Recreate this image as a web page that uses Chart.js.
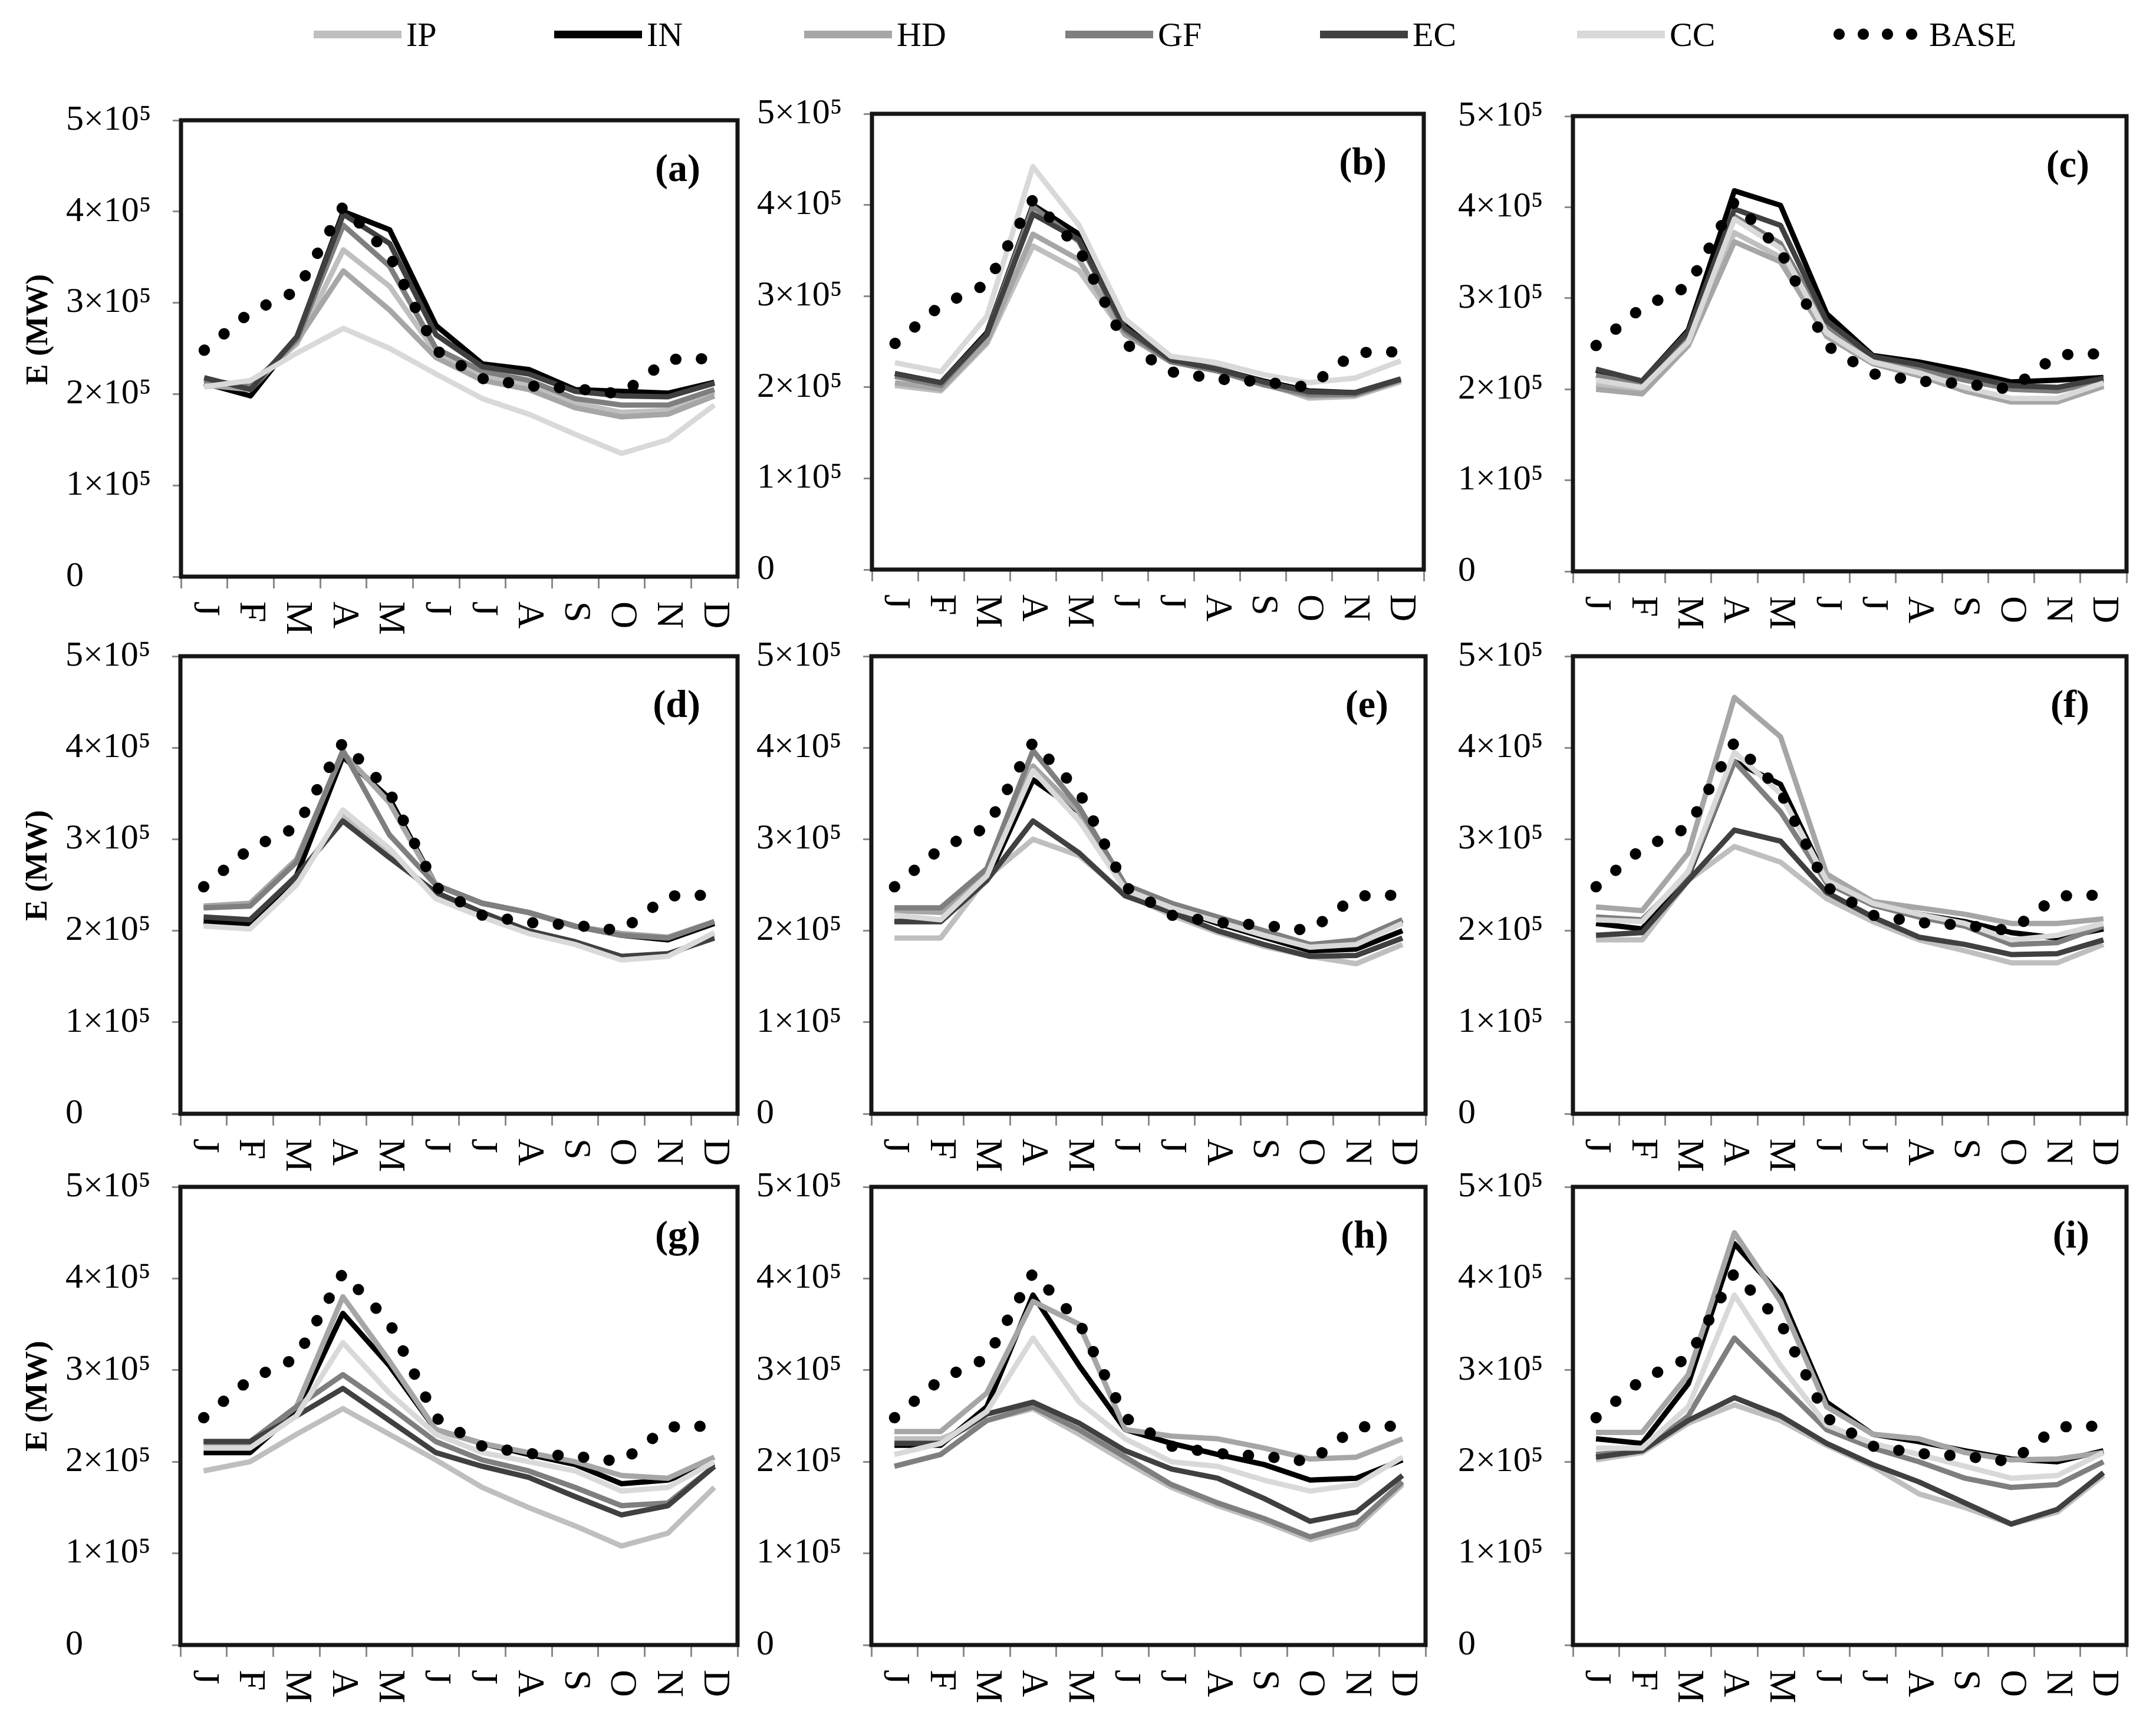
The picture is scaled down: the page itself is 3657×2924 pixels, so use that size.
<!DOCTYPE html>
<html lang="en">
<head>
<meta charset="UTF-8" />
<title>Monthly energy E (MW) by scenario</title>
<script src="https://cdn.jsdelivr.net/npm/chart.js"></script>
<style>
  body { margin: 0; background: #fff; width: 3657px; height: 2924px; position: relative; overflow: hidden;
         font-family: "Liberation Serif", "Times New Roman", serif; }
  canvas { position: absolute; }
  .item { position: absolute; top: 28px; height: 60px; display: flex; align-items: center; font-size: 58px; }
  .sw { width: 149px; height: 13px; margin-right: 8px; }
  .dots { width: 144px; height: 22px; margin-right: 19px;
          background: radial-gradient(circle, #000 9px, transparent 10px) -10px 0 / 41px 22px repeat-x; }
</style>
</head>
<body>

<script>
  // --- data (energy in units of 10^5 MW) ---
  const months = ['J', 'F', 'M', 'A', 'M', 'J', 'J', 'A', 'S', 'O', 'N', 'D'];
  const panelTags = ['(a)', '(b)', '(c)', '(d)', '(e)', '(f)', '(g)', '(h)', '(i)'];
  const yTickLabels = ['0', '1×10⁵', '2×10⁵', '3×10⁵', '4×10⁵', '5×10⁵'];
  const seriesNames = ['IP', 'IN', 'HD', 'GF', 'EC', 'CC'];

  const BASE = [2.48, 2.90, 3.13, 4.06, 3.52, 2.48, 2.17, 2.09, 2.06, 2.00, 2.38, 2.39];

  // one row per panel (a) ... (i)
  const IP = [
    [2.08, 2.12, 2.55, 3.58, 3.18, 2.45, 2.20, 2.10, 1.90, 1.80, 1.82, 2.02],
    [2.02, 1.96, 2.48, 3.55, 3.28, 2.58, 2.28, 2.22, 2.05, 1.88, 1.90, 2.06],
    [2.05, 1.98, 2.50, 3.72, 3.45, 2.60, 2.30, 2.18, 2.00, 1.88, 1.88, 2.05],
    [2.08, 2.05, 2.55, 3.28, 2.85, 2.38, 2.17, 1.98, 1.86, 1.70, 1.73, 1.95],
    [1.92, 1.92, 2.58, 3.00, 2.82, 2.40, 2.17, 1.98, 1.83, 1.72, 1.64, 1.85],
    [1.90, 1.90, 2.55, 2.92, 2.75, 2.35, 2.10, 1.90, 1.78, 1.65, 1.65, 1.85],
    [1.90, 2.00, 2.30, 2.58, 2.30, 2.02, 1.72, 1.50, 1.30, 1.08, 1.22, 1.72],
    [2.25, 2.25, 2.45, 2.58, 2.30, 2.00, 1.72, 1.52, 1.35, 1.15, 1.28, 1.75],
    [2.02, 2.10, 2.42, 2.62, 2.45, 2.18, 1.95, 1.65, 1.50, 1.32, 1.45, 1.85]
  ];
  const IN = [
    [2.12, 1.98, 2.62, 4.00, 3.80, 2.75, 2.33, 2.27, 2.05, 2.03, 2.01, 2.13],
    [2.15, 2.05, 2.60, 4.00, 3.68, 2.72, 2.30, 2.20, 2.07, 1.96, 1.94, 2.09],
    [2.21, 2.09, 2.65, 4.18, 4.02, 2.83, 2.37, 2.30, 2.20, 2.08, 2.10, 2.13],
    [2.10, 2.07, 2.60, 3.90, 3.45, 2.50, 2.30, 2.20, 2.05, 1.95, 1.90, 2.08],
    [2.10, 2.10, 2.55, 3.65, 3.30, 2.48, 2.25, 2.08, 1.93, 1.78, 1.80, 2.00],
    [2.08, 2.02, 2.60, 3.85, 3.60, 2.55, 2.30, 2.18, 2.10, 1.98, 1.92, 2.02],
    [2.10, 2.10, 2.55, 3.62, 3.05, 2.35, 2.20, 2.08, 1.97, 1.76, 1.80, 1.98],
    [2.18, 2.18, 2.60, 3.82, 3.05, 2.35, 2.20, 2.08, 1.97, 1.80, 1.82, 2.02],
    [2.25, 2.20, 2.85, 4.38, 3.82, 2.65, 2.30, 2.22, 2.12, 2.03, 2.00, 2.12]
  ];
  const HD = [
    [2.10, 2.05, 2.58, 3.35, 2.92, 2.40, 2.15, 2.05, 1.85, 1.75, 1.78, 1.98],
    [2.05, 1.98, 2.50, 3.68, 3.40, 2.58, 2.28, 2.20, 2.03, 1.90, 1.92, 2.08],
    [2.00, 1.95, 2.48, 3.62, 3.40, 2.58, 2.28, 2.15, 1.98, 1.86, 1.86, 2.03],
    [2.27, 2.30, 2.78, 3.95, 3.40, 2.50, 2.30, 2.20, 2.05, 1.97, 1.93, 2.10],
    [2.22, 2.20, 2.65, 3.80, 3.30, 2.48, 2.28, 2.12, 1.98, 1.83, 1.88, 2.10],
    [2.26, 2.22, 2.85, 4.55, 4.12, 2.62, 2.32, 2.25, 2.18, 2.08, 2.08, 2.13],
    [2.20, 2.20, 2.60, 3.80, 3.10, 2.35, 2.20, 2.10, 2.00, 1.85, 1.82, 2.05],
    [2.33, 2.33, 2.75, 3.75, 3.50, 2.35, 2.28, 2.25, 2.15, 2.03, 2.05, 2.25],
    [2.32, 2.32, 2.95, 4.50, 3.75, 2.60, 2.30, 2.25, 2.10, 2.02, 2.03, 2.10]
  ];
  const GF = [
    [2.16, 2.08, 2.60, 3.85, 3.40, 2.50, 2.25, 2.15, 1.95, 1.88, 1.88, 2.05],
    [2.12, 2.02, 2.58, 3.98, 3.60, 2.62, 2.28, 2.18, 2.03, 1.92, 1.92, 2.08],
    [2.15, 2.05, 2.60, 3.90, 3.60, 2.70, 2.33, 2.22, 2.10, 2.00, 1.98, 2.10],
    [2.25, 2.27, 2.75, 3.97, 3.05, 2.50, 2.30, 2.20, 2.05, 1.95, 1.92, 2.10],
    [2.25, 2.25, 2.68, 3.97, 3.35, 2.50, 2.30, 2.15, 2.00, 1.85, 1.90, 2.12],
    [2.15, 2.12, 2.62, 3.85, 3.30, 2.52, 2.28, 2.15, 2.05, 1.85, 1.87, 2.05],
    [2.22, 2.22, 2.60, 2.95, 2.60, 2.22, 2.02, 1.90, 1.72, 1.52, 1.55, 1.95],
    [1.95, 2.08, 2.45, 2.60, 2.35, 2.05, 1.75, 1.55, 1.38, 1.18, 1.32, 1.78],
    [2.08, 2.12, 2.50, 3.35, 2.85, 2.35, 2.15, 2.00, 1.82, 1.72, 1.75, 2.00]
  ];
  const EC = [
    [2.18, 2.05, 2.63, 3.97, 3.65, 2.65, 2.30, 2.22, 2.03, 1.98, 1.97, 2.12],
    [2.15, 2.05, 2.58, 3.90, 3.62, 2.65, 2.30, 2.20, 2.06, 1.95, 1.94, 2.09],
    [2.22, 2.09, 2.63, 3.98, 3.80, 2.75, 2.36, 2.27, 2.15, 2.04, 2.02, 2.12],
    [2.15, 2.12, 2.60, 3.20, 2.80, 2.42, 2.20, 2.00, 1.88, 1.72, 1.75, 1.92],
    [2.10, 2.10, 2.55, 3.20, 2.85, 2.38, 2.20, 2.00, 1.85, 1.72, 1.73, 1.92],
    [1.95, 1.98, 2.55, 3.10, 2.98, 2.42, 2.15, 1.93, 1.85, 1.74, 1.75, 1.90],
    [2.22, 2.22, 2.50, 2.80, 2.45, 2.10, 1.95, 1.83, 1.62, 1.42, 1.52, 1.95],
    [2.20, 2.20, 2.52, 2.65, 2.42, 2.12, 1.92, 1.82, 1.60, 1.35, 1.45, 1.85],
    [2.05, 2.12, 2.45, 2.70, 2.50, 2.20, 1.97, 1.78, 1.55, 1.32, 1.48, 1.88]
  ];
  const CC = [
    [2.08, 2.15, 2.45, 2.72, 2.50, 2.22, 1.95, 1.78, 1.56, 1.35, 1.50, 1.88],
    [2.27, 2.17, 2.78, 4.42, 3.78, 2.75, 2.34, 2.27, 2.14, 2.05, 2.10, 2.29],
    [2.10, 2.02, 2.52, 3.87, 3.55, 2.62, 2.30, 2.18, 2.02, 1.90, 1.90, 2.07],
    [2.05, 2.02, 2.50, 3.32, 2.90, 2.35, 2.15, 1.97, 1.85, 1.68, 1.72, 1.98],
    [2.17, 2.12, 2.60, 3.75, 3.20, 2.45, 2.25, 2.10, 1.95, 1.82, 1.85, 2.08],
    [2.12, 2.10, 2.65, 3.95, 3.50, 2.55, 2.30, 2.18, 2.08, 1.90, 1.95, 2.08],
    [2.15, 2.15, 2.50, 3.30, 2.75, 2.30, 2.10, 2.00, 1.90, 1.68, 1.72, 2.00],
    [2.08, 2.20, 2.55, 3.35, 2.65, 2.25, 2.00, 1.95, 1.80, 1.68, 1.75, 2.05],
    [2.15, 2.15, 2.60, 3.82, 3.05, 2.40, 2.20, 2.08, 1.95, 1.82, 1.85, 2.10]
  ];
  const seriesData = [IP, IN, HD, GF, EC, CC];

  // --- style / layout ---
  const seriesColors = ['#bfbfbf', '#000000', '#a6a6a6', '#7f7f7f', '#404040', '#d9d9d9'];
  const serif = '"Liberation Serif", "Times New Roman", serif';
  const legendLefts = [532, 940, 1364, 1807, 2239, 2675, 3109];
  // plot-area boxes [left, top, right, bottom] in page pixels
  const boxes = [
    [307, 204, 1251, 978], [1479, 193, 2415, 966], [2668, 197, 3607, 969],
    [306, 1113, 1251, 1889], [1478, 1113, 2418, 1889], [2668, 1113, 3607, 1889],
    [306, 2013, 1251, 2790], [1478, 2013, 2418, 2790], [2668, 2013, 3607, 2790]
  ];
  const PADL = 105, AXW = 195, PT = 50, PR = 20, XH = 130;

  // legend
  seriesNames.concat('BASE').forEach((name, k) => {
    const sw = k < seriesNames.length
      ? `<span class="sw" style="background:${seriesColors[k]}"></span>`
      : '<span class="dots"></span>';
    document.body.insertAdjacentHTML('beforeend',
      `<div class="item" style="left:${legendLefts[k]}px">${sw}${name}</div>`);
  });

  // frame, panel tag, y title and rotated month labels
  const panelDecor = {
    id: 'panelDecor',
    afterDatasetsDraw(chart, args, opts) {
      const { ctx, chartArea: a } = chart;
      const x = chart.scales.x;
      ctx.save();
      ctx.strokeStyle = '#161616';
      ctx.lineWidth = 7;
      ctx.strokeRect(a.left, a.top, a.right - a.left, a.bottom - a.top);
      ctx.fillStyle = '#000';
      ctx.font = 'bold 66px ' + serif;
      ctx.textAlign = 'right';
      ctx.textBaseline = 'middle';
      ctx.fillText(opts.tag, a.right - 63, a.top + 86);

      if (opts.yTitle) {
        ctx.save();
        ctx.font = 'bold 52px ' + serif;
        ctx.textAlign = 'center';
        ctx.translate(a.left - 240, a.top + 355);
        ctx.rotate(-Math.PI / 2);
        const w = ctx.measureText(opts.yTitle).width;
        ctx.scale(188 / w, 1);
        ctx.fillText(opts.yTitle, 0, 0);
        ctx.restore();
      }

      ctx.font = '64px ' + serif;
      ctx.textAlign = 'left';
      x.getLabels().forEach((lab, i) => {
        ctx.save();
        ctx.translate(x.getPixelForValue(i), a.bottom + 42);
        ctx.rotate(Math.PI / 2);
        ctx.fillText(lab, 0, 0);
        ctx.restore();
      });
      ctx.restore();
    }
  };

  boxes.forEach((b, p) => {
    const [L, T, R, B] = b;
    const cv = document.createElement('canvas');
    const w = R - L + PADL + AXW + PR, h = B - T + PT + XH;
    cv.width = w; cv.height = h;
    cv.style.left = (L - AXW - PADL) + 'px';
    cv.style.top = (T - PT) + 'px';
    cv.style.width = w + 'px';
    cv.style.height = h + 'px';
    document.body.appendChild(cv);

    const datasets = seriesNames.map((name, k) => ({
      label: name,
      data: seriesData[k][p],
      borderColor: seriesColors[k],
      borderWidth: 9,
      borderJoinStyle: 'round',
      pointRadius: 0,
      tension: 0,
      order: seriesNames.length - k
    }));
    datasets.push({
      label: 'BASE',
      data: BASE,
      borderColor: '#000',
      borderWidth: 19,
      borderDash: [0.5, 43],
      borderCapStyle: 'round',
      pointRadius: 0,
      tension: 0,
      order: 0
    });

    new Chart(cv, {
      type: 'line',
      data: { labels: months, datasets },
      options: {
        responsive: false,
        animation: false,
        layout: { padding: { left: PADL, top: PT, right: PR, bottom: 0 } },
        plugins: {
          legend: { display: false },
          tooltip: { enabled: false },
          panelDecor: { tag: panelTags[p], yTitle: p % 3 === 0 ? 'E (MW)' : '' }
        },
        scales: {
          x: {
            type: 'category',
            offset: true,
            grid: { offset: true, drawOnChartArea: false, drawTicks: true, tickLength: 20, color: '#8a8a8a', lineWidth: 3 },
            border: { display: false },
            ticks: { display: false },
            afterFit(s) { s.height = XH; }
          },
          y: {
            min: 0,
            max: 5,
            grid: { drawOnChartArea: false, drawTicks: true, tickLength: 14, color: '#8a8a8a', lineWidth: 3 },
            border: { display: false },
            ticks: {
              stepSize: 1,
              crossAlign: 'far',
              color: '#000',
              font: { family: serif, size: 60 },
              callback: v => yTickLabels[v]
            },
            afterFit(s) { s.width = AXW; }
          }
        }
      },
      plugins: [panelDecor]
    });
  });
</script>
</body>
</html>
